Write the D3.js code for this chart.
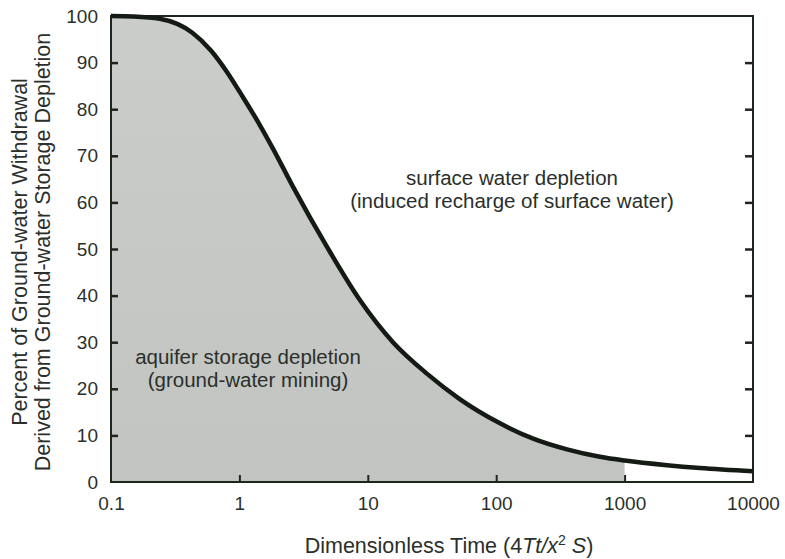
<!DOCTYPE html>
<html>
<head>
<meta charset="utf-8">
<script src="https://cdn.jsdelivr.net/npm/d3@7"></script>
<style>
  body { margin: 0; background: #fff; }
  svg text { font-family: "Liberation Sans", Arial, Helvetica, sans-serif; fill: #2b2f2b; }
</style>
</head>
<body>
<svg width="785" height="559"></svg>
<script>
// Dimensionless time
const timeValues = [0.1, 0.15, 0.24, 0.43, 0.6, 0.8, 1.07, 1.45, 1.83, 2.6, 4.8, 8.7, 15.7, 29, 52, 107, 194, 356, 643, 1000, 2140, 3860, 10000];
// Percent derived from storage depletion
const storagePct = [100, 99.9, 99.4, 96.4, 92.6, 88, 82.5, 76.5, 71.5, 63.5, 50.5, 39, 30, 23.2, 17.8, 12.6, 9.3, 7.0, 5.4, 4.6, 3.6, 3.0, 2.3];

const xTicks = [0.1, 1, 10, 100, 1000, 10000];
const xTickLabels = ["0.1", "1", "10", "100", "1000", "10000"];
const yTicks = [0, 10, 20, 30, 40, 50, 60, 70, 80, 90, 100];
const yInnerTicks = [10, 20, 30, 40, 50, 60, 70, 80, 90];
const fillLimit = 1000; // shading stops here

const data = timeValues.map((t, i) => ({ t: t, p: storagePct[i] }));

const svg = d3.select("svg");
const plotL = 111, plotR = 753, plotT = 16, plotB = 482;
const axisColor = "#1c261c";

const x = d3.scaleLog().domain([0.1, 10000]).range([plotL, plotR]);
const y = d3.scaleLinear().domain([0, 100]).range([plotB, plotT]);

// gradient + clip for the shaded area
const defs = svg.append("defs");
const grad = defs.append("linearGradient").attr("id", "shade")
    .attr("x1", 0).attr("y1", 0).attr("x2", 0).attr("y2", 1);
grad.append("stop").attr("offset", "0%").attr("stop-color", "#cacdc9");
grad.append("stop").attr("offset", "100%").attr("stop-color", "#c1c4c0");

defs.append("clipPath").attr("id", "shadeClip")
  .append("rect")
    .attr("x", plotL).attr("y", plotT)
    .attr("width", x(fillLimit) - plotL).attr("height", plotB - plotT);

// shaded area under the curve
const area = d3.area()
    .x(d => x(d.t))
    .y0(y(0))
    .y1(d => y(d.p))
    .curve(d3.curveMonotoneX);

svg.append("path")
    .datum(data)
    .attr("clip-path", "url(#shadeClip)")
    .attr("fill", "url(#shade)")
    .attr("d", area);

// frame
svg.append("rect")
    .attr("x", plotL).attr("y", plotT)
    .attr("width", plotR - plotL).attr("height", plotB - plotT)
    .attr("fill", "none")
    .attr("stroke", axisColor)
    .attr("stroke-width", 2);

// left axis
const yAxis = svg.append("g")
    .attr("transform", `translate(${plotL},0)`)
    .call(d3.axisLeft(y).tickValues(yTicks).tickSize(-7).tickPadding(13).tickFormat(d3.format("d")));
yAxis.select(".domain").remove();
yAxis.selectAll("line").attr("stroke", axisColor).attr("stroke-width", 2.5)
    .filter(d => d === 0 || d === 100).remove();
yAxis.selectAll("text").style("font-size", "19px").attr("fill", "#2b2f2b");

// right ticks
const yRight = svg.append("g")
    .attr("transform", `translate(${plotR},0)`)
    .call(d3.axisRight(y).tickValues(yInnerTicks).tickSize(-8).tickFormat(""));
yRight.select(".domain").remove();
yRight.selectAll("line").attr("stroke", axisColor).attr("stroke-width", 2.5);

// bottom axis
const xAxis = svg.append("g")
    .attr("transform", `translate(0,${plotB})`)
    .call(d3.axisBottom(x).tickValues(xTicks).tickSize(-7).tickPadding(15)
        .tickFormat((d, i) => xTickLabels[i]));
xAxis.select(".domain").remove();
xAxis.selectAll("line").attr("stroke", axisColor).attr("stroke-width", 2)
    .filter(d => d === 0.1 || d === 10000).remove();
xAxis.selectAll("text").style("font-size", "19px").attr("fill", "#2b2f2b");

// curve
const line = d3.line()
    .x(d => x(d.t))
    .y(d => y(d.p))
    .curve(d3.curveMonotoneX);

svg.append("path")
    .datum(data)
    .attr("fill", "none")
    .attr("stroke", "#141a14")
    .attr("stroke-width", 4.5)
    .attr("stroke-linejoin", "round")
    .attr("d", line);

// annotations
const note = (lines, cx, y0) => {
    const t = svg.append("text")
        .attr("text-anchor", "middle")
        .style("font-size", "20.5px");
    lines.forEach((s, i) => {
        t.append("tspan").attr("x", cx).attr("y", y0 + i * 23).text(s);
    });
};
note(["surface water depletion", "(induced recharge of surface water)"], 512, 185);
note(["aquifer storage depletion", "(ground-water mining)"], 248, 364);

// y title
const yTitle = svg.append("text")
    .attr("transform", "translate(0,252) rotate(-90)")
    .attr("text-anchor", "middle")
    .style("font-size", "21.5px");
yTitle.append("tspan").attr("x", 0).attr("y", 27).text("Percent of Ground-water Withdrawal");
yTitle.append("tspan").attr("x", 0).attr("y", 50).text("Derived from Ground-water Storage Depletion");

// x title
const xTitle = svg.append("text")
    .attr("x", 449).attr("y", 553)
    .attr("text-anchor", "middle")
    .style("font-size", "21.5px");
xTitle.append("tspan").text("Dimensionless Time (4");
xTitle.append("tspan").style("font-style", "italic").text("Tt/x");
xTitle.append("tspan").attr("dy", -8).style("font-size", "14px").text("2");
xTitle.append("tspan").attr("dy", 8).text(" ");
xTitle.append("tspan").style("font-style", "italic").text("S");
xTitle.append("tspan").text(")");
</script>
</body>
</html>
